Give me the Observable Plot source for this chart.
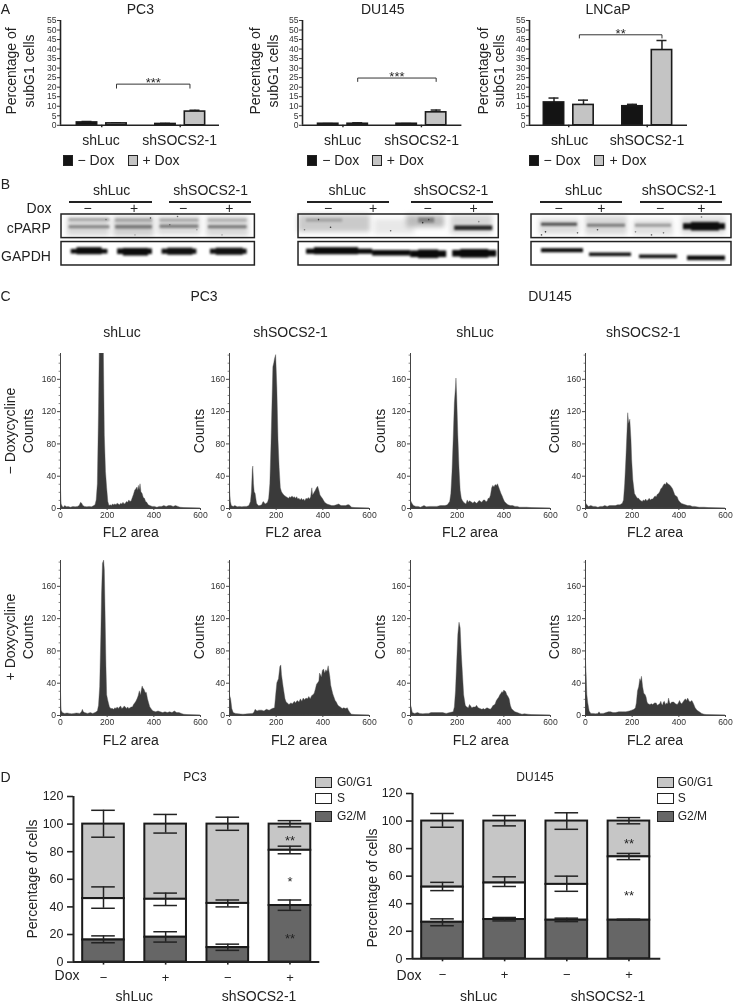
<!DOCTYPE html>
<html><head><meta charset="utf-8">
<script src="https://cdn.jsdelivr.net/npm/d3@7"></script>
<script src="https://cdn.jsdelivr.net/npm/@observablehq/plot@0.6"></script>
<style>
html,body{margin:0;padding:0;background:#fff}
#page{position:relative;width:733px;height:1004px;overflow:hidden;background:#fff;font-family:"Liberation Sans",Arial,sans-serif;color:#222;filter:blur(0.35px)}
.t{position:absolute;white-space:nowrap;transform:translate(-50%,-50%);line-height:1}
.s{position:absolute;box-sizing:border-box;border:1.5px solid #222}
</style></head><body><div id="page"></div>
<script>
// ---------- Panel A: percentage of subG1 cells ----------
const subG1Ticks = [0,5,10,15,20,25,30,35,40,45,50,55];
const subG1Slots = [0,1,2.66,3.66];
const subG1Pc3 = [1.5,1,0.7,7.2];
const subG1Pc3Err = [2,1.2,1,7.9];
const subG1Du145 = [0.8,0.8,0.8,6.8];
const subG1Du145Err = [0.9,1.3,0.9,8];
const subG1Lncap = [12,10.7,10,39.5];
const subG1LncapErr = [14.3,13.2,11,44.5];

// ---------- Panel C: histograms [FL2 area, counts] ----------
const pc3LucMinus = [[0,45],[2,25],[5,5],[10,2],[15,1],[20,3],[28,1.5],[35,2],[45,1],[55,2],[65,1.5],[75,2],[82,3],[88,7],[93,6],[98,3],[105,2],[115,1.5],[125,2],[135,1.5],[145,3],[150,4],[155,10],[160,30],[165,120],[168,192],[186,192],[190,90],[195,45],[200,25],[205,8],[210,3],[215,4],[220,3],[225,5],[230,4],[235,5],[240,4],[245,6],[250,5],[255,4],[260,6],[265,5],[270,7],[275,5],[280,6],[285,8],[290,7],[295,10],[300,8],[305,9],[310,13],[315,17],[320,22],[325,24],[330,26],[333,22],[336,28],[339,23],[343,30],[347,20],[352,18],[357,13],[362,12],[367,8],[372,7],[378,4],[385,3],[395,2],[405,2],[415,1],[425,2],[435,2],[445,3],[455,2],[465,3],[475,3],[485,2],[495,3],[505,2],[515,1],[530,0.5],[600,0]];
const pc3SocsMinus = [[0,38],[3,20],[6,8],[10,3],[18,2],[25,3],[35,1.5],[45,2],[55,1.5],[65,2],[75,2],[85,3],[92,8],[96,20],[100,48],[102,52],[105,30],[108,20],[112,18],[118,6],[125,3],[132,3],[140,4],[146,8],[150,7],[155,5],[160,6],[165,7],[170,12],[175,30],[180,80],[185,140],[188,175],[192,180],[195,185],[200,190],[205,150],[210,85],[215,50],[220,25],[225,20],[230,18],[235,16],[240,15],[245,14],[250,13],[255,12],[260,14],[265,13],[270,15],[275,13],[280,14],[285,12],[290,14],[295,11],[300,12],[305,10],[310,12],[315,10],[320,11],[325,9],[330,12],[335,11],[340,13],[345,11],[350,14],[355,25],[358,16],[362,18],[366,20],[370,22],[375,25],[380,27],[385,22],[390,16],[395,14],[400,12],[410,7],[420,5],[430,4],[440,3],[450,3],[460,4],[470,5],[480,3],[490,3],[500,3],[508,4],[515,4],[525,1],[540,0.5],[600,0]];
const duLucMinus = [[0,10],[3,9],[8,6],[15,3],[25,2],[35,2],[45,1],[60,3],[70,1.5],[85,2],[100,2],[115,2],[130,3],[140,3],[150,3],[160,4],[170,8],[175,18],[180,45],[185,85],[190,130],[195,150],[197,161],[200,140],[205,90],[210,50],[215,22],[220,12],[225,9],[230,7],[235,6],[240,5],[245,10],[250,7],[255,9],[260,8],[265,7],[270,6],[275,8],[280,7],[285,6],[290,7],[295,9],[300,9],[305,7],[310,8],[315,10],[320,10],[325,8],[330,8],[335,12],[340,12],[345,16],[350,25],[355,28],[360,26],[365,29],[370,28],[375,30],[380,26],[385,22],[390,18],[395,15],[400,11],[405,8],[412,6],[420,4],[430,3],[440,3],[450,2],[460,2],[470,1],[480,1],[500,1],[520,0.5],[600,0]];
const duSocsMinus = [[0,9],[3,6],[8,4],[15,2],[25,3],[35,2],[45,2],[55,1],[65,2],[75,2],[85,3],[95,2],[105,3],[120,3],[130,3],[140,4],[150,4],[160,6],[165,10],[170,30],[175,60],[180,95],[183,118],[187,105],[192,110],[197,85],[200,60],[205,35],[212,18],[216,16],[220,14],[225,12],[230,12],[235,10],[240,9],[245,8],[250,10],[255,9],[260,11],[265,9],[270,10],[275,12],[280,10],[285,11],[290,11],[295,13],[300,15],[305,14],[310,17],[315,18],[320,20],[325,24],[330,25],[335,28],[340,30],[345,29],[350,32],[355,30],[360,29],[365,28],[370,26],[375,24],[380,20],[385,16],[390,15],[395,14],[400,10],[405,8],[412,6],[420,5],[430,4],[440,3],[450,3],[460,2],[470,2],[490,1],[510,1],[530,0.5],[600,0]];
const pc3LucPlus = [[0,55],[2,30],[5,6],[10,3],[20,2],[30,2.5],[40,2],[50,1.5],[60,2],[70,2.5],[85,2],[92,4],[96,7],[100,4],[105,3],[118,2],[130,3],[140,2],[150,3],[160,5],[165,12],[170,35],[175,100],[178,150],[182,188],[187,192],[190,180],[193,130],[197,60],[200,25],[205,18],[212,10],[218,8],[225,8],[230,7],[235,9],[240,8],[245,10],[250,8],[255,10],[260,11],[265,8],[270,9],[275,11],[280,10],[285,8],[290,10],[295,8],[300,9],[305,10],[310,10],[315,13],[320,15],[325,17],[330,20],[335,24],[340,30],[345,25],[349,32],[352,36],[356,33],[360,32],[365,28],[370,28],[375,20],[380,15],[385,10],[390,8],[395,6],[400,5],[410,4],[420,5],[430,4],[440,3],[450,4],[460,3],[470,4],[480,3],[490,5],[500,3],[510,3],[520,2],[530,1],[545,0.5],[600,0]];
const pc3SocsPlus = [[0,42],[2,25],[7,20],[12,8],[18,3],[28,2],[40,1.5],[60,1],[80,1.5],[100,2],[106,3],[112,7],[120,5],[128,6],[140,6],[150,5],[160,7],[172,6],[185,8],[195,9],[200,25],[205,40],[212,45],[218,60],[222,62],[225,50],[232,35],[240,20],[245,16],[250,15],[257,13],[265,15],[272,14],[280,17],[285,15],[292,18],[300,16],[306,20],[312,17],[318,21],[324,19],[330,21],[336,20],[342,23],[348,20],[354,24],[360,25],[365,27],[370,32],[375,38],[380,40],[385,42],[388,52],[392,50],[396,47],[400,55],[405,57],[410,52],[415,56],[420,54],[425,61],[428,55],[432,48],[436,37],[440,32],[445,26],[450,22],[455,18],[460,16],[465,13],[470,11],[477,10],[485,8],[492,9],[500,8],[507,9],[512,6],[518,3],[525,1],[540,0.5],[600,0]];
const duLucPlus = [[0,14],[5,10],[10,3],[20,2],[32,3],[42,2],[55,1.5],[68,2],[80,2],[90,3],[100,3],[115,3],[130,3],[140,3],[155,2],[170,3],[185,4],[190,10],[195,30],[200,65],[205,100],[210,115],[215,108],[220,75],[225,50],[230,25],[237,12],[243,10],[250,9],[255,13],[260,11],[265,9],[272,10],[280,10],[285,12],[292,9],[300,8],[308,7],[315,8],[320,7],[325,8],[330,9],[337,8],[344,7],[350,9],[356,12],[360,12],[365,14],[370,18],[375,20],[380,22],[385,25],[390,27],[394,29],[398,28],[402,31],[405,30],[410,29],[415,25],[420,23],[425,20],[430,12],[435,8],[442,6],[450,4],[460,3],[470,2],[480,1],[490,1.5],[505,1],[520,0.5],[600,0]];
const duSocsPlus = [[0,105],[2,68],[5,50],[8,25],[12,15],[18,5],[25,2],[35,2],[45,1.5],[55,2],[60,4],[65,2],[78,2],[90,3],[100,4],[110,4],[120,3],[130,3],[145,4],[160,4],[175,4],[190,5],[200,6],[210,7],[216,9],[220,15],[225,30],[230,35],[235,45],[238,42],[242,48],[247,35],[252,27],[258,25],[262,22],[266,16],[270,14],[278,13],[285,14],[290,13],[298,15],[305,15],[310,12],[315,13],[320,14],[325,17],[328,14],[332,12],[336,16],[340,17],[345,13],[350,15],[354,14],[358,21],[362,16],[365,14],[372,16],[380,16],[388,14],[395,13],[400,15],[405,18],[410,15],[415,14],[422,17],[430,20],[435,18],[440,21],[445,18],[450,16],[458,18],[465,14],[472,9],[480,6],[490,4],[500,2],[510,1],[520,0.5],[600,0]];
const countTicks = [0,40,80,120,160];
const countMinor = [10,20,30,50,60,70,90,100,110,130,140,150,170,180,190];
const areaTicks = [0,200,400,600];

// ---------- Panel D: stacked cell-cycle bars ----------
const phaseTicks = [0,20,40,60,80,100,120];
const doxSigns = ["\u2212","+","\u2212","+"];
const pc3G2m = [16,18,10.5,41];
const pc3S = [46,45.5,42.5,81];
const pc3G2mLo = [14,14.5,8.5,37.5], pc3G2mHi = [19,22,13,45];
const pc3SLo = [39,41,40,78.5], pc3SHi = [54.5,50,45,84];
const pc3GLo = [90.5,93.5,95.5,98], pc3GHi = [110,107,105,102.5];
const pc3Stars = [[3,90,"**"],[3,60,"*"],[3,19,"**"]];
const duG2m = [26.5,28.5,28,28];
const duS = [52,55,54,74];
const duG2mLo = [24,27.5,27,28], duG2mHi = [29,30,29.5,28.7];
const duSLo = [49.5,52.5,49,72], duSHi = [55.5,59.5,60,76.5];
const duGLo = [95.5,96.5,94,98], duGHi = [105.5,104,106,102.5];
const duStars = [[3,86,"**"],[3,48,"**"]];

// ---------- Panel B: blot bands [from %, to %, position, thickness, tone] ----------
const blot1Smears = [[3,25,24,36,"#d8d8d8"],[27,48,24,38,"#cfcfcf"],[50,72,22,36,"#dadada"],[75,97,24,38,"#d8d8d8"]];
const blot1Bands = [[4,25,11,6,"#a8a8a8"],[4,25,25,6,"#848484"],[28,47,12,6,"#a0a0a0"],[28,47,25,7,"#767676"],[51,71,12,6,"#a8a8a8"],[51,71,24,7,"#808080"],[76,96,12,6,"#b0b0b0"],[76,96,25,6,"#767676"],
  [5,24,73,9,"#0c0c0c"],[29,47,73,11,"#0c0c0c"],[52,70,73,10,"#111"],[77,96,73,10,"#111"],[8,21,72,14,"#0c0c0c"],[32,45,74,15,"#0c0c0c"],[55,68,73,14,"#111"],[80,94,73,14,"#111"]];
const blot1Spots = [[46,7,"#444"],[23,10,"#777"],[38,40,"#aaa"],[56,20,"#666"],[60,4,"#666"],[70,30,"#999"],[83,40,"#aaa"]];
const blot2Smears = [[0,36,18,34,"#cacaca"],[38,58,24,30,"#e8e8e8"],[54,73,14,24,"#bcbcbc"],[76,97,20,36,"#d6d6d6"]];
const blot2Bands = [[4,22,12,6,"#a0a0a0"],[60,68,12,10,"#808080"],[78,97,27,9,"#262626"],
  [4,37,73,10,"#0a0a0a"],[37,56,76,11,"#0a0a0a"],[56,74,78,13,"#0a0a0a"],[77,99,77,13,"#0a0a0a"],[8,30,72,14,"#0a0a0a"],[60,70,78,17,"#0a0a0a"],[81,95,77,17,"#0a0a0a"]];
const blot2Spots = [[10,10,"#333"],[16,25,"#333"],[3,30,"#777"],[46,32,"#666"],[62,16,"#333"],[65,10,"#444"],[90,14,"#888"]];
const blot3Smears = [[4,24,24,30,"#dcdcdc"],[27,48,22,36,"#d8d8d8"],[51,71,26,30,"#e0e0e0"],[75,97,22,34,"#dedede"]];
const blot3Bands = [[5,23,20,6,"#4c4c4c"],[28,47,22,6,"#7a7a7a"],[52,70,22,6,"#9a9a9a"],[76,97,24,12,"#0e0e0e"],[80,94,24,17,"#0e0e0e"],
  [5,26,71,8,"#0a0a0a"],[29,50,79,7,"#111"],[54,73,83,7,"#111"],[78,97,86,9,"#0a0a0a"]];
const blot3Spots = [[7,34,"#333"],[5,40,"#555"],[23,36,"#666"],[33,30,"#444"],[60,40,"#666"],[66,36,"#777"],[85,5,"#777"],[52,34,"#888"]];

const page = document.getElementById("page");
const FONT = '"Liberation Sans",Arial,sans-serif';
const PAD = 40;

function label(text,x,y,size=14,rot=0,color="#222"){
  const d=document.createElement("div");d.className="t";d.textContent=text;
  d.style.left=x+"px";d.style.top=y+"px";d.style.fontSize=size+"px";d.style.color=color;
  if(rot)d.style.transform=`translate(-50%,-50%) rotate(${rot}deg)`;
  page.appendChild(d);
}
function swatch(x,y,w,h,fill){
  const d=document.createElement("div");d.className="s";
  d.style.cssText+=`left:${x}px;top:${y}px;width:${w}px;height:${h}px;background:${fill}`;
  page.appendChild(d);
}
function chart(f,xDomain,yDomain,marks){
  const svg=Plot.plot({
    width:f.right-f.left+2*PAD,height:f.bottom-f.top+2*PAD,
    marginLeft:PAD,marginRight:PAD,marginTop:PAD,marginBottom:PAD,
    x:{domain:xDomain,axis:null},y:{domain:yDomain,axis:null},color:{type:"identity"},
    style:{position:"absolute",left:(f.left-PAD)+"px",top:(f.top-PAD)+"px",background:"transparent",fontFamily:FONT},
    marks});
  page.appendChild(svg);
}

// ---------- A ----------
function subG1(f,vals,errs,bracket,stars){
  const xMin=(f.left-f.c0)/29.5, xMax=(f.right-f.c0)/29.5, hw=0.345;
  const rows=subG1Slots.map((s,i)=>({s,v:vals[i],e:errs[i],fill:i%2?"#c4c4c4":"#141414"}));
  chart(f,[xMin,xMax],[0,55],[
    Plot.ruleX(rows,{x:"s",y1:"v",y2:"e",stroke:"#222",strokeWidth:1.5}),
    Plot.ruleY(rows,{y:"e",x1:d=>d.s-0.17,x2:d=>d.s+0.17,stroke:"#222",strokeWidth:1.5}),
    Plot.rect(rows,{x1:d=>d.s-hw,x2:d=>d.s+hw,y1:0,y2:"v",fill:"fill",stroke:"#1a1a1a",strokeWidth:1.6}),
    Plot.axisY({ticks:subG1Ticks,tickSize:3,tickPadding:1,fontSize:8.6,label:null,color:"#333",strokeWidth:1}),
    Plot.axisX({ticks:[0.5,3.16],tickSize:2.5,tickFormat:()=>null,label:null,strokeWidth:1.4}),
    Plot.ruleX([xMin],{stroke:"#222",strokeWidth:1.6}),
    Plot.ruleY([0],{stroke:"#222",strokeWidth:1.6}),
    Plot.line([[bracket[0],bracket[3]],[bracket[0],bracket[2]],[bracket[1],bracket[2]],[bracket[1],bracket[3]]],{stroke:"#333",strokeWidth:1}),
    Plot.text([stars],{x:(bracket[0]+bracket[1])/2,y:bracket[2],text:d=>d,dy:-1,fontSize:13,fill:"#222"})
  ]);
}
subG1({left:60,right:219,top:19.7,bottom:124.5,c0:86.5},subG1Pc3,subG1Pc3Err,[1,3.49,21.6,19.5],"***");
subG1({left:302.3,right:461.7,top:19.7,bottom:124.5,c0:328},subG1Du145,subG1Du145Err,[1,3.66,24.8,23],"***");
subG1({left:529,right:687,top:19.7,bottom:124.5,c0:553.5},subG1Lncap,subG1LncapErr,[0.86,3.66,47.5,45.8],"**");

[[140.3,"PC3",11,29,101,179.7,62.7,78,128,143],
 [382.7,"DU145",255,273.3,342.7,421.7,307.3,322.7,372,387.3],
 [608,"LNCaP",483,499,569.7,647,529.3,544,594,610]].forEach(([tx,name,l1,l2,c1,c2,s1,t1,s2,t2])=>{
  label(name,tx,8.5);
  label("Percentage of",l1,71,14,-90);
  label("subG1 cells",l2,71,14,-90);
  label("shLuc",c1,140);label("shSOCS2-1",c2,140);
  swatch(s1,155,10,10.5,"#141414");swatch(s2,155,10,10.5,"#c4c4c4");
  label("\u2212 Dox",t1+18,160);label("+ Dox",t2+18,160);
});
label("A",5.5,9,14);label("B",5.5,184,14);label("C",5.5,296,14);label("D",5.5,777,14);

// ---------- B ----------
function blot(left,right,smears,bands,spots){
  const f={left,right,top:213.7,bottom:264.7};
  const rows=a=>a.map(([a1,a2,y,t,c])=>({a1,a2,y1:y-t/2,y2:y+t/2,c}));
  chart(f,[0,100],[100,0],[
    Plot.rect(rows(smears),{x1:"a1",x2:"a2",y1:"y1",y2:"y2",fill:"c",imageFilter:"blur(2.5px)"}),
    Plot.rect(rows(bands),{x1:"a1",x2:"a2",y1:"y1",y2:"y2",fill:"c",imageFilter:"blur(1px)"}),
    Plot.dot(spots,{x:d=>d[0],y:d=>d[1],fill:d=>d[2],r:0.8,imageFilter:"blur(0.4px)"}),
    Plot.rect([[0,46.3],[54,100]],{x1:0,x2:100,y1:d=>d[0],y2:d=>d[1],fill:"none",stroke:"#222",strokeWidth:1.5})
  ]);
}
blot(61.3,254.7,blot1Smears,blot1Bands,blot1Spots);
blot(297.7,498,blot2Smears,blot2Bands,blot2Spots);
blot(531,731,blot3Smears,blot3Bands,blot3Spots);
function blotHead(c1,c2,a1,a2,b1,b2,signs){
  label("shLuc",c1,190);label("shSOCS2-1",c2,190);
  [[a1,a2],[b1,b2]].forEach(([l,r])=>{const d=document.createElement("div");
    d.style.cssText=`position:absolute;left:${l}px;top:201.2px;width:${r-l}px;height:2px;background:#222`;page.appendChild(d);});
  signs.forEach((x,i)=>label(doxSigns[i],x,208.3,14));
}
blotHead(111.7,210.7,69.3,151.7,169,251.3,[87.7,134,183,229.3]);
blotHead(347.3,451,307,389.3,410.7,492.7,[328,373,427.7,473.7]);
blotHead(583.7,679,540,622.3,639.7,722,[558.7,601.3,660,701.3]);
label("Dox",39,208.3);label("cPARP",28.7,227.7);label("GAPDH",26,255.7);

// ---------- C ----------
function hist(left,top,data){
  const f={left,right:left+140,top,bottom:top+155};
  chart(f,[0,600],[0,192],[
    Plot.areaY(data,{x:d=>d[0],y:d=>d[1],fill:"#3a3a3a",stroke:"#555",strokeWidth:0.4,clip:true}),
    Plot.ruleY(countMinor,{y:d=>d,x1:-6,x2:0,stroke:"#666",strokeWidth:0.8}),
    Plot.axisY({ticks:countTicks,tickSize:3,tickPadding:1.5,fontSize:8.6,label:null,color:"#333",strokeWidth:0.9}),
    Plot.axisX({ticks:areaTicks,tickSize:2,tickPadding:1.5,fontSize:8.6,label:null,color:"#333",strokeWidth:0.9}),
    Plot.ruleX([0],{stroke:"#444",strokeWidth:1}),
    Plot.ruleY([0],{stroke:"#444",strokeWidth:1})
  ]);
}
hist(60.3,353.3,pc3LucMinus);hist(228.7,353.3,pc3SocsMinus);hist(410,353.3,duLucMinus);hist(585,353.3,duSocsMinus);
hist(60.3,559.7,pc3LucPlus);hist(228.7,559.7,pc3SocsPlus);hist(410,559.7,duLucPlus);hist(585,559.7,duSocsPlus);
label("PC3",204,296);label("DU145",550,296);
[122,290.5,475,643.3].forEach((x,i)=>label(i%2?"shSOCS2-1":"shLuc",x,332));
[130.7,293.3,470,655].forEach(x=>label("FL2 area",x,532.3));
[130.7,299,480.7,655].forEach(x=>label("FL2 area",x,740));
[27.7,199,380,553.7].forEach(x=>{label("Counts",x,431,14,-90);label("Counts",x,636.7,14,-90);});
label("\u2212 Doxycycline",10.3,431,14,-90);
label("+ Doxycycline",10.3,636.7,14,-90);

// ---------- D ----------
function cycle(f,g2m,s,g2Lo,g2Hi,sLo,sHi,gLo,gHi,stars){
  const xMin=(f.left-f.c0)/62.15, xMax=(f.right-f.c0)/62.15, hw=0.335, cap=0.19;
  const idx=[0,1,2,3];
  const seg=[...idx.map(i=>({i,y1:s[i],y2:100,c:"#c6c6c6"})),...idx.map(i=>({i,y1:g2m[i],y2:s[i],c:"#fff"})),...idx.map(i=>({i,y1:0,y2:g2m[i],c:"#666"}))];
  const errs=[...idx.map(i=>({i,lo:g2Lo[i],hi:g2Hi[i]})),...idx.map(i=>({i,lo:sLo[i],hi:sHi[i]})),...idx.map(i=>({i,lo:gLo[i],hi:gHi[i]}))];
  chart(f,[xMin,xMax],[0,120],[
    Plot.rect(seg,{x1:d=>d.i-hw,x2:d=>d.i+hw,y1:"y1",y2:"y2",fill:"c",stroke:"#1a1a1a",strokeWidth:2}),
    Plot.ruleX(errs,{x:"i",y1:"lo",y2:"hi",stroke:"#222",strokeWidth:1.5}),
    Plot.ruleY(errs,{y:"lo",x1:d=>d.i-cap,x2:d=>d.i+cap,stroke:"#222",strokeWidth:1.5}),
    Plot.ruleY(errs,{y:"hi",x1:d=>d.i-cap,x2:d=>d.i+cap,stroke:"#222",strokeWidth:1.5}),
    Plot.text(stars,{x:d=>d[0],y:d=>d[1],text:d=>d[2],fontSize:13,dy:3,fill:"#222"}),
    Plot.axisY({ticks:phaseTicks,tickSize:6,tickPadding:4,fontSize:12.5,label:null,color:"#222",strokeWidth:1.6}),
    Plot.axisX({ticks:idx,tickSize:3,tickPadding:8,fontSize:13,label:null,color:"#222",strokeWidth:1.6,tickFormat:i=>doxSigns[i]}),
    Plot.ruleX([xMin],{stroke:"#222",strokeWidth:2}),
    Plot.ruleY([0],{stroke:"#222",strokeWidth:2})
  ]);
}
cycle({left:72.7,right:319,top:795.7,bottom:961.3,c0:102.7},pc3G2m,pc3S,pc3G2mLo,pc3G2mHi,pc3SLo,pc3SHi,pc3GLo,pc3GHi,pc3Stars);
cycle({left:411.7,right:660,top:792.7,bottom:958,c0:441.7},duG2m,duS,duG2mLo,duG2mHi,duSLo,duSHi,duGLo,duGHi,duStars);
label("PC3",195,777,12);label("DU145",535,777,12);
label("Percentage of cells",31.7,878.7,14,-90);
label("Percentage of cells",372.3,888,14,-90);
label("Dox",67,975,14);label("Dox",409,975,14);
label("shLuc",134.3,996);label("shSOCS2-1",259,996);
label("shLuc",478.7,996);label("shSOCS2-1",608,996);
[[315,337],[656.7,677.7]].forEach(([sx,tx])=>{
  [[776.7,"#c6c6c6","G0/G1"],[792.7,"#fff","S"],[810.7,"#666","G2/M"]].forEach(([y,c,n])=>{
    swatch(sx,y,17,11,c);
    const d=document.createElement("div");d.className="t";d.textContent=n;
    d.style.cssText+=`left:${tx}px;top:${y+5.5}px;font-size:12px;transform:translateY(-50%)`;
    page.appendChild(d);
  });
});
</script></body></html>
